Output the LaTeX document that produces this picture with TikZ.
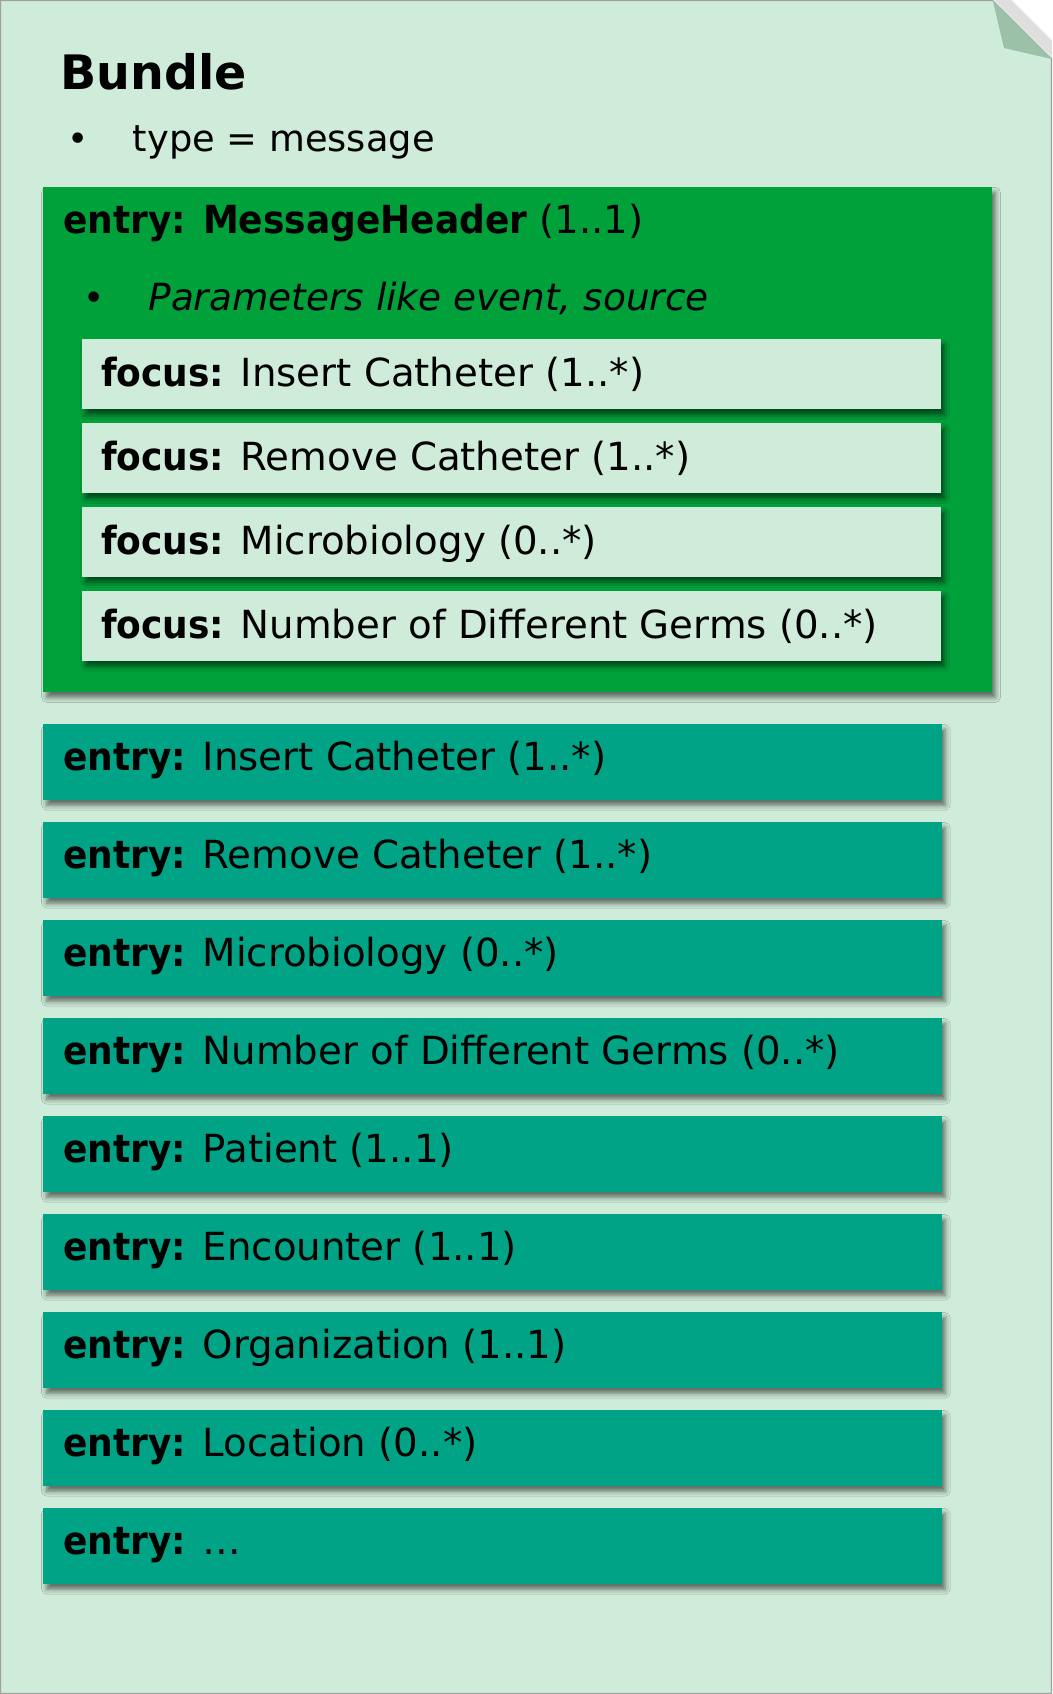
\documentclass[tikz,border=0pt]{standalone}
\usepackage{fontspec}
\setmainfont{DejaVu Sans}[BoldFeatures={FakeStretch=0.93}]
\newfontfamily\bundlefont{DejaVu Sans Bold}
\usetikzlibrary{shadows.blur}
\definecolor{pagegreen}{RGB}{207,235,217}
\definecolor{foldgreen}{RGB}{155,193,169}
\definecolor{hdrgreen}{RGB}{0,160,58}
\definecolor{tealbox}{RGB}{0,163,134}
\definecolor{edgegray}{RGB}{160,160,160}
\tikzset{
  shd/.style={blur shadow={shadow xshift=3.5pt,shadow yshift=-5.5pt,shadow blur radius=5pt,shadow opacity=55}},
  hdrbox/.style={fill=hdrgreen,draw=none,shd,anchor=north west,minimum width=948.7pt,minimum height=505pt,inner sep=0pt},
  focusbox/.style={fill=pagegreen,draw=none,shd,anchor=north west,minimum width=858.7pt,minimum height=70pt,inner sep=0pt},
  entrybox/.style={fill=tealbox,draw=none,shd,anchor=north west,minimum width=898.5pt,minimum height=75.5pt,inner sep=0pt},
  boxtext/.style={anchor=base west,inner sep=0pt,font=\fontsize{38.7}{45}\selectfont},
  italtext/.style={anchor=base west,inner sep=0pt,font=\fontsize{37.4}{43}\selectfont\itshape},
  typetext/.style={anchor=base west,inner sep=0pt,font=\fontsize{36.8}{42}\selectfont},
  bullettext/.style={anchor=base,inner sep=0pt,font=\fontsize{36}{42}\selectfont},
  titletext/.style={anchor=base west,inner sep=0pt,font=\fontsize{47.5}{56}\bundlefont},
}
\begin{document}
\begin{tikzpicture}[x=1pt,y=-1pt]
\useasboundingbox (0,0) rectangle (1052,1694);
\fill[white] (0,0) rectangle (1052,1694);
% shadow of the folded corner
\begin{scope}
\clip (0,0) rectangle (1052,1694);
\foreach \i in {1,...,10}{
  \draw[black,opacity=0.07,line width=2.2pt,shift={(\i*0.9,-\i*0.9)}] (992.7,0) -- (1051.7,59);
}
\end{scope}
% page
\path[fill=pagegreen,draw=edgegray,line width=1.2pt] (0.6,0.6) -- (992.7,0.6) -- (1051.4,59) -- (1051.4,1693.4) -- (0.6,1693.4) -- cycle;
\fill[foldgreen] (992.7,0) -- (1004,48) -- (1051.7,59) -- cycle;

\node[titletext] (bundle) at (60,89.3) {Bundle};
\node[bullettext] (b1) at (78,151.7) {•};
\node[typetext] (type) at (132.7,151.7) {type = message};

% MessageHeader entry
\node[hdrbox] (hdr) at (43,186.7) {};
\node[boxtext] (hdrtitle) at (63.3,233) {\textbf{entry: MessageHeader} (1..1)};
\node[bullettext] (b2) at (94,310) {•};
\node[italtext] (params) at (148.3,310) {Parameters like event, source};

\node[focusbox] (f1) at (82,339) {};
\node[focusbox] (f2) at (82,422.8) {};
\node[focusbox] (f3) at (82,506.6) {};
\node[focusbox] (f4) at (82,590.4) {};
\node[boxtext] (ft1) at (101,386.7) {\textbf{focus:} Insert Catheter (1..*)};
\node[boxtext] (ft2) at (101,470.5) {\textbf{focus:} Remove Catheter (1..*)};
\node[boxtext] (ft3) at (101,554.3) {\textbf{focus:} Microbiology (0..*)};
\node[boxtext] (ft4) at (101,638.1) {\textbf{focus:} Number of Different Germs (0..*)};

% entries
\foreach \n/\t [count=\k from 0] in {
  e1/{Insert Catheter (1..*)},
  e2/{Remove Catheter (1..*)},
  e3/{Microbiology (0..*)},
  e4/{Number of Different Germs (0..*)},
  e5/{Patient (1..1)},
  e6/{Encounter (1..1)},
  e7/{Organization (1..1)},
  e8/{Location (0..*)},
  e9/{…}}{
  \node[entrybox] (\n) at (43,724+98*\k) {};
  \node[boxtext] (\n t) at (63.3,770+98*\k) {\textbf{entry:} \t};
}
\end{tikzpicture}
\end{document}
